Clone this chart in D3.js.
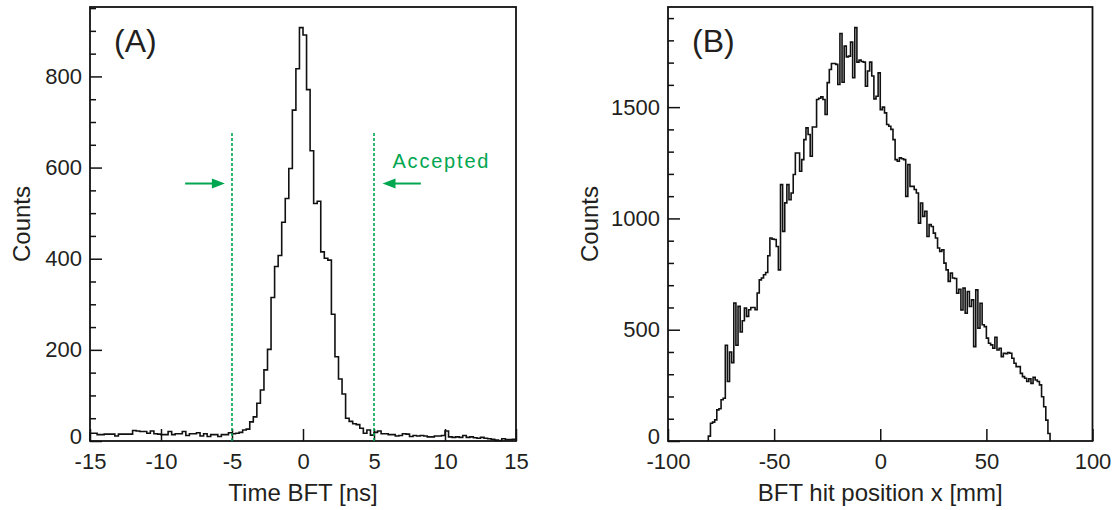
<!DOCTYPE html>
<html>
<head>
<meta charset="utf-8">
<script src="https://cdn.jsdelivr.net/npm/d3@7"></script>
<style>
  body { margin: 0; background: #fff; }
  svg { display: block; }
  text { font-family: "Liberation Sans", Arial, Helvetica, sans-serif; fill: #231f20; }
</style>
</head>
<body>
<svg id="chart" width="1119" height="510"></svg>
<script>
// ---- (A) BFT timing histogram: 0.25 ns bins from -15 ns ----
const timeStart = -15;
const timeBinWidth = 0.25;
const timeCounts = [
  17,17,14,14,15,15,15,11,15,15, 15,15,23,22,21,21,17,22,16,15,
  14,14,21,14,16,16,21,12,16,16, 18,11,16,10,14,14,10,14,14,18,
  16,17,19,24,26,42,53,83,112,156, 201,315,383,407,480,532,598,726,817,907,
  891,771,637,521,526,415,401,397,278,185, 136,103,50,43,38,36,28,17,24,13,
  19,22,16,16,14,14,11,12,16,15, 10,12,11,12,11,9,9,11,11,12,
  22,9,8,9,8,12,8,9,7,6, 8,6,5,4,2,1,5,3,3,4
];
const timeTicks = [-15, -10, -5, 0, 5, 10, 15];
const timeCountTicks = [0, 200, 400, 600, 800];
const acceptWindow = [-5, 5];

// ---- (B) BFT hit position histogram: 1 mm bins from -81 mm ----
const posStart = -81;
const posBinWidth = 1;
const posCounts = [
  22,80,85,95,140,145,185,192,430,267,
  400,352,620,430,605,490,540,597,560,590,
  600,600,590,665,724,732,747,757,832,912,
  907,905,874,769,1152,942,1070,1152,1084,1114,
  1197,1294,1294,1212,1264,1354,1407,1377,1279,1411,
  1411,1534,1540,1546,1534,1467,1610,1669,1696,1696,
  1692,1602,1831,1612,1774,1726,1729,1792,1632,1857,
  1702,1711,1705,1702,1594,1662,1702,1640,1537,1549,
  1654,1489,1500,1474,1422,1414,1400,1354,1264,1257,
  1272,1268,1264,1099,1242,1144,1144,1130,1114,979,
  1069,1009,1032,919,972,964,934,912,867,852,
  859,799,769,717,754,732,730,664,682,589,
  687,574,672,604,634,424,679,507,619,522,
  514,462,439,432,417,466,409,417,379,394,
  392,397,394,372,349,334,334,304,289,282,
  267,280,259,286,274,267,252,199,154,94,
  34
];
const posTicks = [-100, -50, 0, 50, 100];
const posCountTicks = [0, 500, 1000, 1500];

const svg = d3.select("#chart");
const green = "#00a650";

// Histogram outline as a step path
function stepPoints(start, width, counts) {
  const pts = [[start, 0]];
  counts.forEach((c, i) => {
    pts.push([start + i * width, c]);
    pts.push([start + (i + 1) * width, c]);
  });
  pts.push([start + counts.length * width, 0]);
  return pts;
}

function drawPanel(opt) {
  const { x, y, xMajor, xMinorStep, yMajor, yMinorStep } = opt;
  const g = svg.append("g");
  const [x0, x1] = x.range();
  const [y0, y1] = y.range();

  // histogram
  const line = d3.line().x(d => x(d[0])).y(d => y(d[1]));
  g.append("path")
    .datum(stepPoints(opt.start, opt.width, opt.counts))
    .attr("d", line)
    .attr("fill", "none")
    .attr("stroke", "#111")
    .attr("stroke-width", 1.6)
    .attr("stroke-linejoin", "miter");

  const xd = x.domain(), yd = y.domain();
  const xMinor = d3.range(xd[0], xd[1] + 1e-9, xMinorStep).filter(v => !xMajor.includes(v));
  const yMinor = d3.range(0, yd[1], yMinorStep).filter(v => !yMajor.includes(v));

  // bottom axis (ticks point inward)
  const bx = g.append("g").attr("transform", `translate(0,${y0})`);
  bx.call(d3.axisBottom(x).tickValues(xMinor).tickSize(-6).tickFormat(""));
  bx.call(d3.axisBottom(x).tickValues(xMajor).tickSize(-12).tickPadding(12)
    .tickFormat(d => String(d)));
  // left axis
  const ly = g.append("g").attr("transform", `translate(${x0},0)`);
  ly.call(d3.axisLeft(y).tickValues(yMinor).tickSize(-6).tickFormat(""));
  const yl = ly.append("g");
  yl.call(d3.axisLeft(y).tickValues(yMajor).tickSize(-12).tickPadding(8)
    .tickFormat(d => String(d)));
  // lift the zero label a little so it clears the x labels
  yl.selectAll(".tick text").filter(d => d === 0).attr("dy", "0.12em");

  g.selectAll(".domain").remove();
  g.selectAll(".tick line").attr("stroke", "#111").attr("stroke-width", 1.5);
  g.selectAll(".tick text").attr("font-size", 22).attr("fill", "#231f20")
    .style("font-family", "'Liberation Sans', Arial, sans-serif");

  // frame
  g.append("rect")
    .attr("x", x0).attr("y", y1)
    .attr("width", x1 - x0).attr("height", y0 - y1)
    .attr("fill", "none").attr("stroke", "#111").attr("stroke-width", 1.8);

  // axis titles
  g.append("text")
    .attr("x", (x0 + x1) / 2).attr("y", 501)
    .attr("text-anchor", "middle").attr("font-size", 24)
    .text(opt.xTitle);
  g.append("text")
    .attr("transform", `translate(${opt.yTitleX},${(y0 + y1) / 2}) rotate(-90)`)
    .attr("text-anchor", "middle").attr("font-size", 24)
    .text("Counts");
  // panel tag
  g.append("text")
    .attr("x", x0 + 24).attr("y", 52)
    .attr("font-size", 32)
    .text(opt.tag);
  return g;
}

// ---- Panel A ----
const xA = d3.scaleLinear().domain([-15, 15]).range([90, 516]);
const yA = d3.scaleLinear().domain([0, d3.max(timeCounts) * 1.05]).range([441, 7]);
const gA = drawPanel({
  x: xA, y: yA, xMajor: timeTicks, xMinorStep: 1, yMajor: timeCountTicks, yMinorStep: 50,
  start: timeStart, width: timeBinWidth, counts: timeCounts,
  xTitle: "Time BFT [ns]", yTitleX: 30, tag: "(A)"
});

// acceptance window markers
const cutTop = 680, arrowY = 565;
acceptWindow.forEach(v => {
  gA.append("line")
    .attr("x1", xA(v)).attr("x2", xA(v))
    .attr("y1", yA(0)).attr("y2", yA(cutTop))
    .attr("stroke", green).attr("stroke-width", 1.6)
    .attr("stroke-dasharray", "3,2");
});
function arrow(fromX, toX) {
  const xa = xA(fromX), xb = xA(toX), yy = yA(arrowY);
  const dir = Math.sign(xb - xa);
  gA.append("line")
    .attr("x1", xa).attr("x2", xb - dir * 10)
    .attr("y1", yy).attr("y2", yy)
    .attr("stroke", green).attr("stroke-width", 2);
  gA.append("path")
    .attr("d", `M${xb},${yy} L${xb - dir * 13},${yy - 5} L${xb - dir * 13},${yy + 5} Z`)
    .attr("fill", green);
}
arrow(-8.3, -5.5);
arrow(8.3, 5.6);
gA.append("text")
  .attr("x", xA(6.3)).attr("y", yA(600))
  .attr("font-size", 20).attr("letter-spacing", 1.8)
  .style("fill", green)
  .text("Accepted");

// ---- Panel B ----
const xB = d3.scaleLinear().domain([-100, 100]).range([668, 1092.5]);
const yB = d3.scaleLinear().domain([0, d3.max(posCounts) * 1.05]).range([441, 7]);
drawPanel({
  x: xB, y: yB, xMajor: posTicks, xMinorStep: 10, yMajor: posCountTicks, yMinorStep: 100,
  start: posStart, width: posBinWidth, counts: posCounts,
  xTitle: "BFT hit position x [mm]", yTitleX: 598, tag: "(B)"
});
</script>
</body>
</html>
